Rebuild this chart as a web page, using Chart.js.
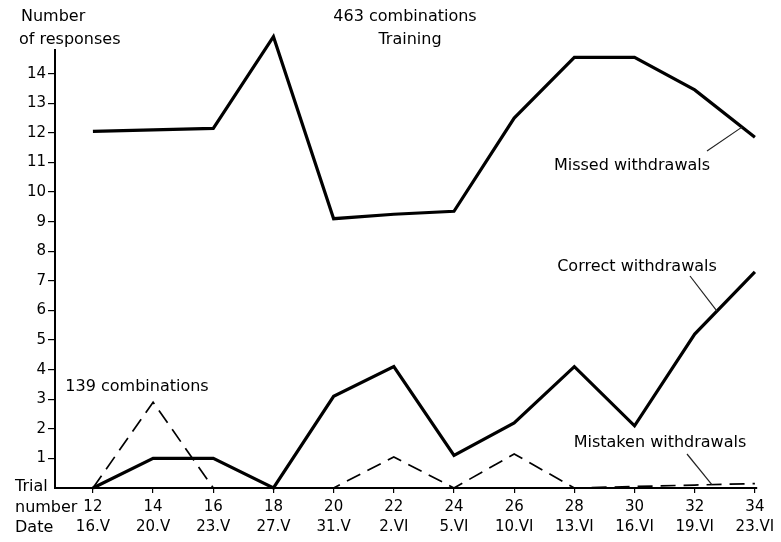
<!DOCTYPE html>
<html>
<head>
<meta charset="utf-8">
<script src="https://cdn.jsdelivr.net/npm/chart.js@4.4.1/dist/chart.umd.min.js"></script>
<style>
  html, body { margin: 0; padding: 0; background: #fff; }
  #wrap { width: 781px; height: 542px; position: relative; }
</style>
</head>
<body>
<div id="wrap"><canvas id="c" width="781" height="542"></canvas></div>
<script>
// ---- data ----
const trials = [12, 14, 16, 18, 20, 22, 24, 26, 28, 30, 32, 34];
const dates = ['16.V', '20.V', '23.V', '27.V', '31.V', '2.VI', '5.VI', '10.VI', '13.VI', '16.VI', '19.VI', '23.VI'];
const missedWithdrawals = [12.05, 12.1, 12.15, 15.25, 9.1, 9.25, 9.35, 12.5, 14.55, 14.55, 13.45, 11.85];
const correctWithdrawals = [0, 1.0, 1.0, 0, 3.1, 4.1, 1.1, 2.2, 4.1, 2.1, 5.2, 7.3];
const mistakenWithdrawals = [0, 2.9, 0, 0, 0, 1.05, 0, 1.15, 0, 0.05, 0.1, 0.15];
const yTicks = [1, 2, 3, 4, 5, 6, 7, 8, 9, 10, 11, 12, 13, 14];

const toPts = arr => arr.map((v, i) => ({ x: trials[i], y: v }));
const FONT = '"DejaVu Sans", sans-serif';
const INK = '#000';

function interp(arr, t) {
  for (let i = 0; i < trials.length - 1; i++) {
    if (t >= trials[i] && t <= trials[i + 1]) {
      const f = (t - trials[i]) / (trials[i + 1] - trials[i]);
      return arr[i] + f * (arr[i + 1] - arr[i]);
    }
  }
  return arr[arr.length - 1];
}

const annotationPlugin = {
  id: 'annot',
  afterDraw(chart) {
    const ctx = chart.ctx;
    const xs = chart.scales.x, ys = chart.scales.y;
    ctx.save();
    ctx.fillStyle = INK;
    ctx.textBaseline = 'middle';
    ctx.font = '16px ' + FONT;
    // axis title
    ctx.textAlign = 'left';
    ctx.fillText('Number', 21, 17);
    ctx.fillText('of responses', 19, 40);
    ctx.fillText('Trial', 15, 487);
    ctx.fillText('number', 15, 508);
    ctx.fillText('Date', 15, 528);
    // titles
    ctx.textAlign = 'center';
    ctx.fillText('463 combinations', 405, 17);
    ctx.fillText('Training', 410, 40);
    ctx.fillText('139 combinations', 137, 387);
    ctx.fillText('Missed withdrawals', 632, 166);
    ctx.fillText('Correct withdrawals', 637, 267);
    ctx.fillText('Mistaken withdrawals', 660, 443);
    // leader lines
    ctx.strokeStyle = '#222';
    ctx.lineWidth = 1.2;
    const leaders = [
      { from: [707, 151], t: 33.57, series: missedWithdrawals },
      { from: [690, 276], t: 32.74, series: correctWithdrawals },
      { from: [687, 454], t: 32.57, series: mistakenWithdrawals }
    ];
    leaders.forEach(l => {
      ctx.beginPath();
      ctx.moveTo(l.from[0], l.from[1]);
      ctx.lineTo(xs.getPixelForValue(l.t), ys.getPixelForValue(interp(l.series, l.t)));
      ctx.stroke();
    });
    ctx.restore();
  }
};

new Chart(document.getElementById('c'), {
  type: 'line',
  data: {
    datasets: [
      { label: 'Missed withdrawals', data: toPts(missedWithdrawals), borderColor: '#000', borderWidth: 3.2, pointRadius: 0, tension: 0, clip: false },
      { label: 'Correct withdrawals', data: toPts(correctWithdrawals), borderColor: '#000', borderWidth: 3.2, pointRadius: 0, tension: 0, clip: false },
      { label: 'Mistaken withdrawals', data: toPts(mistakenWithdrawals), borderColor: '#000', borderWidth: 1.7, borderDash: [15, 8], pointRadius: 0, tension: 0, clip: false }
    ]
  },
  options: {
    responsive: false,
    animation: false,
    layout: { padding: { top: 50, right: 24, left: 0, bottom: 0 } },
    plugins: { legend: { display: false }, tooltip: { enabled: false }, title: { display: false } },
    scales: {
      x: {
        type: 'linear',
        min: 10.74,
        max: 34.07,
        afterBuildTicks: s => { s.ticks = trials.map(v => ({ value: v })); },
        afterFit: s => { s.height = 54; },
        border: { display: true, color: '#000', width: 2 },
        grid: { drawOnChartArea: false, drawTicks: true, tickLength: 5, color: '#000', lineWidth: 1.2 },
        ticks: {
          color: INK,
          font: { family: FONT, size: 15, lineHeight: 1.35 },
          padding: 4,
          maxRotation: 0,
          autoSkip: false,
          callback: (v) => { const i = trials.indexOf(v); return [String(v), dates[i]]; }
        }
      },
      y: {
        type: 'linear',
        min: 0,
        max: 14.8,
        afterBuildTicks: s => { s.ticks = yTicks.map(v => ({ value: v })); },
        afterFit: s => { s.width = 55; },
        border: { display: true, color: '#000', width: 2 },
        grid: { drawOnChartArea: false, drawTicks: true, tickLength: 7, color: '#000', lineWidth: 1.2 },
        ticks: {
          color: INK,
          font: { family: FONT, size: 15 },
          padding: 2,
          autoSkip: false
        }
      }
    }
  },
  plugins: [annotationPlugin]
});
</script>
</body>
</html>
